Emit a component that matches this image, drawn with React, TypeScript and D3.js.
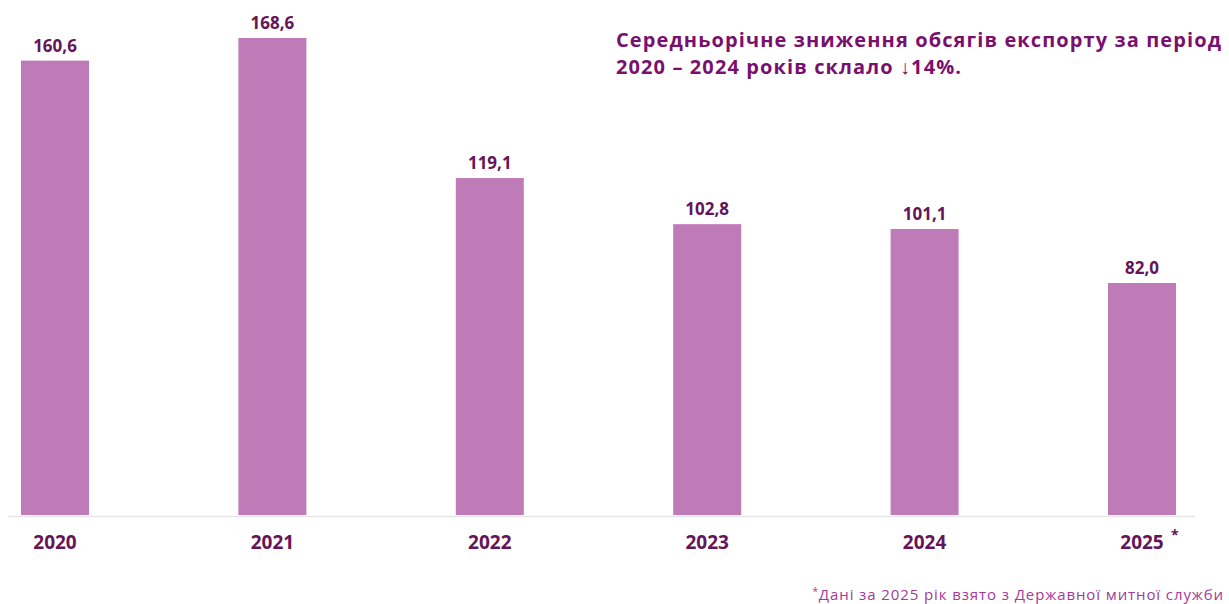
import React from "react";
import * as d3 from "d3";

const years = ["2020", "2021", "2022", "2023", "2024", "2025"];
const values = [160.6, 168.6, 119.1, 102.8, 101.1, 82.0];
const yearSuffix = ["", "", "", "", "", "*"];
const titleLines = [
  "Середньорічне зниження обсягів експорту за період",
  "2020 – 2024 років склало ↓14%.",
];
const footnote = "Дані за 2025 рік взято з Державної митної служби";

const W = 1229;
const H = 604;
const FONT = "'Open Sans', 'Liberation Sans', Arial, sans-serif";
const BAR = "#bf7ab8";
const DARK = "#651458";
const TITLE = "#7a106e";

export default function App() {
  const x = d3.scalePoint<string>().domain(years).range([55, 1142]);
  const y = d3.scaleLinear().domain([0, 168.6]).range([515, 38]);
  const bw = 68;
  const fmt = (v: number) => v.toFixed(1).replace(".", ",");
  return (
    <svg
      width={W}
      height={H}
      style={{ position: "absolute", left: 0, top: 0, background: "#fff" }}
      fontFamily={FONT}
    >
      <line x1={8} x2={1195} y1={516.5} y2={516.5} stroke="#e6e6e6" strokeWidth={1.5} />
      {years.map((yr, i) => (
        <g key={yr}>
          <rect
            x={(x(yr) as number) - bw / 2}
            y={y(values[i])}
            width={bw}
            height={y(0) - y(values[i])}
            fill={BAR}
          />
          <text
            x={x(yr)}
            y={y(values[i]) - 9}
            textAnchor="middle"
            fontSize={17}
            fontWeight="bold"
            fill={DARK}
          >
            {fmt(values[i])}
          </text>
          <text
            x={x(yr)}
            y={549}
            textAnchor="middle"
            fontSize={19}
            fontWeight="bold"
            fill={DARK}
          >
            {yr}
          </text>
          {yearSuffix[i] && (
            <text
              x={(x(yr) as number) + 29}
              y={540}
              fontSize={14}
              fontWeight="bold"
              fill={DARK}
            >
              {yearSuffix[i]}
            </text>
          )}
        </g>
      ))}
      {titleLines.map((t, i) => (
        <text
          key={i}
          x={616}
          y={47 + i * 27}
          fontSize={20}
          fontWeight="bold"
          letterSpacing={1.1}
          fill={TITLE}
        >
          {t}
        </text>
      ))}
      <text x={1224} y={600} textAnchor="end" fontSize={15} letterSpacing={0.9} fill="#a4399a">
        <tspan fontSize={10} dy={-5}>*</tspan>
        <tspan dy={5}>{footnote}</tspan>
      </text>
    </svg>
  );
}
